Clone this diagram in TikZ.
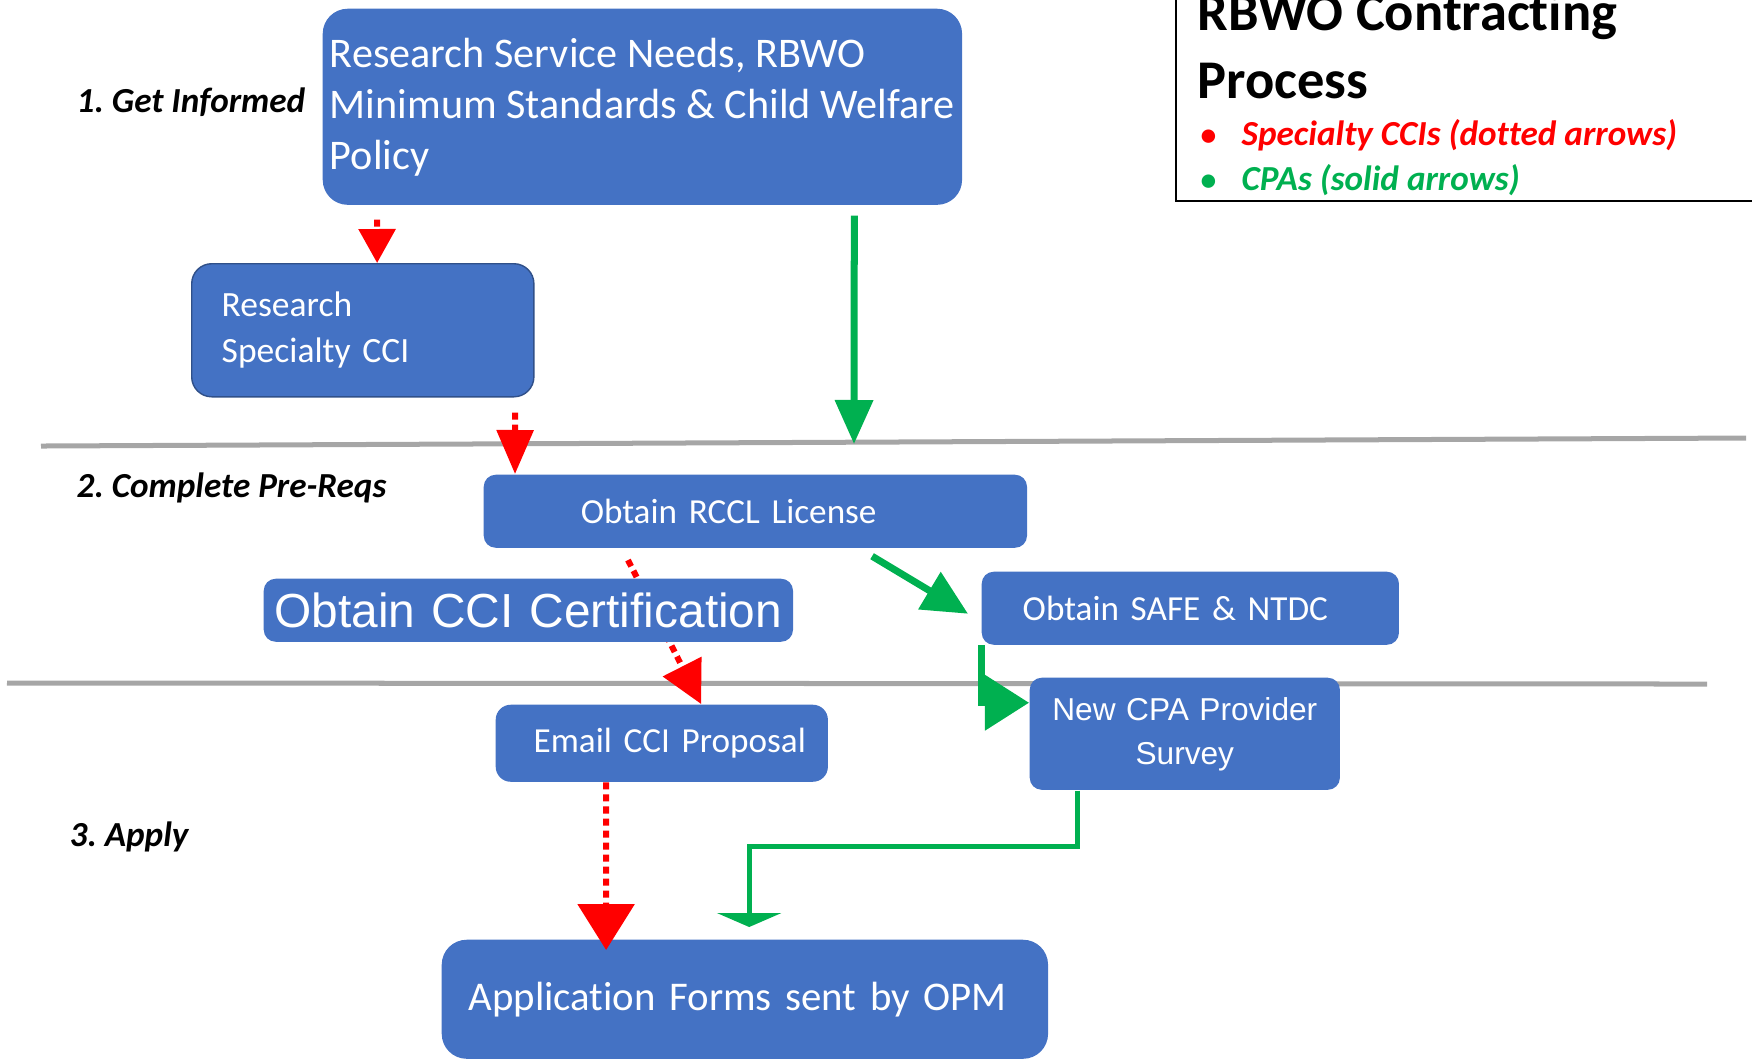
\documentclass[tikz,border=0pt]{standalone}
\usepackage{fontspec}
\setmainfont{Carlito}[Ligatures=NoCommon]
\newfontfamily\arialfont{Liberation Sans}
\usetikzlibrary{arrows.meta}
\frenchspacing

\definecolor{boxblue}{HTML}{4472C4}
\definecolor{cpagreen}{HTML}{00B050}
\definecolor{ccired}{HTML}{FF0000}
\definecolor{dividergray}{HTML}{A6A6A6}

\begin{document}
\begin{tikzpicture}[x=0.01cm, y=-0.01cm,
  stepbox/.style={fill=boxblue, text=white, anchor=north west, inner ysep=0pt, align=left},
  stagelabel/.style={anchor=base west, inner sep=0pt, font=\bfseries\itshape},
  cciarrow/.style={ccired, line width=0.06cm, dash pattern=on 0.07cm off 0.05cm},
  cpaarrow/.style={cpagreen, line width=0.07cm},
  divider/.style={dividergray, line width=0.05cm}]
  \useasboundingbox (0,0) rectangle (1752,1059);

  % --- STEP 0: THE STAGES ---

  % A. Gray lines between the three stages
  \draw[divider] (41,446) -- (1746,438);
  \draw[divider] (7,683) -- (1707,684);

  % B. Stage names on the left
  \node[stagelabel] (getInformed) at (76,112) {1. Get Informed};
  \node[stagelabel] (preReqs) at (76,497) {2. Complete Pre-Reqs};
  \node[stagelabel] (applyStage) at (69,846) {3. Apply};

  % --- STEP 1: THE BOXES ---
  \node[stepbox, rounded corners=0.25cm, minimum width=6.39cm, minimum height=1.96cm,
        inner xsep=0pt, font=\fontsize{12}{14.5}\selectfont]
        (needs) at (322,8) {Research Service Needs, RBWO\\ Minimum Standards \& Child Welfare\\ Policy};
  \node[stepbox, draw=boxblue!70!black, rounded corners=0.2cm, minimum width=3.42cm, minimum height=1.33cm,
        text width=2.82cm, inner xsep=0.3cm, font=\fontsize{10.1}{13.1}\selectfont]
        (research) at (191,263) {Research\\ Specialty CCI};
  \node[stepbox, rounded corners=0.12cm, minimum width=5.43cm, minimum height=0.73cm,
        text width=3.49cm, inner xsep=0.97cm] (rccl) at (483,474) {Obtain RCCL License};
  \node[stepbox, rounded corners=0.12cm, minimum width=4.17cm, minimum height=0.73cm,
        text width=3.35cm, inner xsep=0.41cm] (safe) at (981,571) {Obtain SAFE \& NTDC};
  \node[stepbox, rounded corners=0.12cm, minimum width=3.10cm, minimum height=1.12cm,
        text width=2.90cm, inner xsep=0.1cm, align=center, font=\arialfont\fontsize{9}{12.5}\selectfont]
        (survey) at (1029,677) {\strut New CPA Provider\\ Survey\strut};
  \node[stepbox, rounded corners=0.15cm, minimum width=3.32cm, minimum height=0.77cm,
        text width=2.56cm, inner xsep=0.38cm] (email) at (495,704) {\mbox{Email CCI Proposal}};
  \node[stepbox, rounded corners=0.25cm, minimum width=6.06cm, minimum height=1.19cm,
        text width=5.52cm, inner xsep=0.27cm, font=\fontsize{11.6}{14}\selectfont]
        (apply) at (441,939) {\mbox{Application Forms sent by OPM}};

  % the dotted arrow runs behind the certification box
  \draw[cciarrow, shorten <=0.13cm, -{Triangle[length=0.42cm,width=0.42cm]}]
    ([xshift=1.39cm]rccl.south west) -- ([xshift=2.06cm]email.north west);
  \node[stepbox, rounded corners=0.12cm, minimum width=5.29cm, minimum height=0.63cm,
        text width=5.09cm, inner xsep=0.1cm, align=center, font=\arialfont\fontsize{13.6}{16}\selectfont]
        (cert) at (263,578) {Obtain CCI Certification};

  % --- STEP 2: SPECIALTY CCIs (DOTTED) ---
  \draw[cciarrow, shorten <=0.14cm, -{Triangle[length=0.34cm,width=0.36cm]}]
    ([xshift=0.55cm]needs.south west) -- ([xshift=1.86cm]research.north west);
  \draw[cciarrow, shorten <=0.15cm, -{Triangle[length=0.44cm,width=0.36cm]}]
    ([xshift=3.24cm]research.south west) -- ([xshift=0.32cm]rccl.north west);
  \draw[cciarrow, -{Triangle[length=0.46cm,width=0.56cm]}]
    ([xshift=1.11cm]email.south west) -- ([xshift=1.65cm,yshift=-0.11cm]apply.north west);

  % --- STEP 3: CPAs (SOLID) ---
  \coordinate (licenceLine) at (854,444);
  \draw[cpaarrow, shorten <=0.10cm, -{Triangle[length=0.44cm,width=0.37cm]}]
    ([xshift=5.32cm]needs.south west) -- (licenceLine);
  \draw[cpaarrow, shorten <=0.15cm, -{Triangle[length=0.45cm,width=0.42cm]}]
    ([xshift=3.76cm]rccl.south west) -- ([xshift=-0.13cm,yshift=-0.055cm]safe.west);
  \draw[cpaarrow, -{Triangle[length=0.44cm,width=0.54cm]}]
    (safe.south west) |- ([yshift=0.31cm]survey.west);
  \draw[cpaarrow, line width=0.05cm, -{Triangle[length=0.14cm,width=0.64cm]}]
    ([xshift=0.48cm]survey.south west) |- ([xshift=3.08cm,yshift=0.92cm]apply.north west)
    -- ([xshift=3.08cm,yshift=0.12cm]apply.north west);

  % --- STEP 4: THE KEY ---
  \draw[black, line width=0.025cm] (1176,-10) |- (1760,201);
  \node[anchor=base west, inner sep=0pt, font=\fontsize{15.5}{19}\selectfont\bfseries]
    (legendTitle) at (1197,30) {RBWO Contracting};
  \node[anchor=base west, inner sep=0pt, font=\fontsize{15.5}{19}\selectfont\bfseries]
    (legendTitleB) at (1197,98) {Process};
  \node[stagelabel, text=ccired] (legendCci) at (1200,145)
    {\makebox[0.41cm][l]{\upshape\small\textbullet}Specialty CCIs (dotted arrows)};
  \node[stagelabel, text=cpagreen] (legendCpa) at (1200,190)
    {\makebox[0.41cm][l]{\upshape\small\textbullet}CPAs (solid arrows)};
\end{tikzpicture}
\end{document}
